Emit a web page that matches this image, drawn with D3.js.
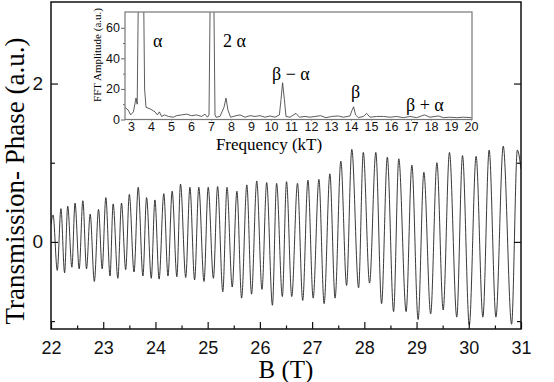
<!doctype html>
<html lang="en">
<head>
  <meta charset="utf-8">
  <title>Transmission phase oscillations</title>
  <script src="https://d3js.org/d3.v7.min.js"></script>
  <style>
    body { margin: 0; background: #fff; }
    svg { display: block; font-family: "Liberation Serif", "Times New Roman", serif; }
    .tick text { fill: #111; }
  </style>
</head>
<body>
  <div id="chart"></div>
  <script>
    // oscillation extrema: field (T) and phase (a.u.)
    const peakB = [22.04, 22.19, 22.32, 22.46, 22.61, 22.75, 22.91, 23.05, 23.19, 23.35,
      23.50, 23.67, 23.83, 23.99, 24.16, 24.32, 24.48, 24.66, 24.83, 25.01,
      25.19, 25.37, 25.56, 25.75, 25.94, 26.13, 26.32, 26.51, 26.72, 26.92,
      27.13, 27.34, 27.55, 27.76, 27.98, 28.22, 28.44, 28.66, 28.91, 29.14,
      29.39, 29.63, 29.88, 30.14, 30.39, 30.66, 30.93];
    const peakVal = [0.34, 0.42, 0.45, 0.49, 0.52, 0.35, 0.41, 0.56, 0.48, 0.49,
      0.60, 0.69, 0.56, 0.53, 0.61, 0.64, 0.73, 0.69, 0.69, 0.69,
      0.70, 0.69, 0.64, 0.72, 0.77, 0.75, 0.74, 0.76, 0.74, 0.78,
      0.79, 0.86, 1.02, 1.17, 1.13, 1.13, 1.07, 1.05, 0.97, 0.88,
      1.00, 1.13, 1.09, 1.08, 1.16, 1.21, 1.16];
    const troughB = [22.12, 22.26, 22.40, 22.54, 22.68, 22.83, 22.98, 23.13, 23.28, 23.43,
      23.59, 23.76, 23.92, 24.07, 24.24, 24.41, 24.58, 24.75, 24.93, 25.11,
      25.29, 25.47, 25.65, 25.84, 26.04, 26.24, 26.43, 26.61, 26.82, 27.02,
      27.23, 27.44, 27.66, 27.89, 28.10, 28.33, 28.56, 28.80, 29.03, 29.27,
      29.51, 29.77, 30.01, 30.27, 30.52, 30.82];
    const troughVal = [-0.36, -0.39, -0.32, -0.34, -0.34, -0.50, -0.34, -0.43, -0.46, -0.35,
      -0.38, -0.43, -0.46, -0.47, -0.43, -0.44, -0.45, -0.48, -0.50, -0.46,
      -0.63, -0.57, -0.71, -0.66, -0.60, -0.80, -0.69, -0.69, -0.74, -0.71,
      -0.78, -0.71, -0.55, -0.58, -0.52, -0.78, -0.88, -0.88, -0.98, -0.91,
      -0.86, -0.95, -1.05, -0.95, -0.95, -1.04];
    const edgeB = [22.0, 31.0];
    const edgeVal = [0.22, 0.92];

    // FFT spectrum of the trace (inset)
    const fftFreq = [2.7, 2.87, 2.98, 3.12, 3.25, 3.31, 3.5, 3.68, 3.75, 3.95,
      4.2, 4.32, 4.42, 4.53, 4.67, 4.87, 5.12, 5.28, 5.53, 5.78,
      6.03, 6.28, 6.53, 6.7, 6.82, 6.9, 7.05, 7.2, 7.25, 7.45,
      7.65, 7.75, 7.85, 7.98, 8.2, 8.45, 8.7, 8.95, 9.2, 9.45,
      9.7, 9.95, 10.2, 10.42, 10.5, 10.58, 10.67, 10.75, 10.95, 11.25,
      11.42, 11.7, 11.95, 12.2, 12.48, 12.75, 13.03, 13.37, 13.62, 13.95,
      14.05, 14.13, 14.23, 14.37, 14.62, 14.78, 14.95, 15.28, 15.62, 15.95,
      16.28, 16.62, 16.95, 17.28, 17.67, 17.95, 18.37, 18.62, 18.95, 19.28,
      19.62, 20.03];
    const fftAmp = [8, 6, 3, 5, 14, 10, 250, 20, 8, 7,
      5, 3, 5, 2, 3, 2, 1.5, 2.5, 3, 3.5,
      2.5, 3, 2, 3.5, 1.5, 3, 200, 3, 1.5, 2,
      8, 14, 6, 1.5, 2.3, 3, 1.5, 2.5, 2, 2.5,
      1.5, 2.3, 1.5, 3, 13, 24, 13, 2, 1.5, 4,
      1.5, 2, 1.5, 2, 2.5, 1.2, 2, 2.3, 1.5, 2.3,
      6, 8.3, 3, 1.2, 2, 4, 1.5, 2, 2, 1.5,
      2, 1.2, 2, 1.2, 3, 1.5, 2.3, 1.2, 1.5, 1.2,
      1.5, 1.2];

    const xTicks = d3.range(22, 32);
    const xMinor = d3.range(22.5, 31, 1);
    const yTicks = [0, 2];
    const yMinor = [-1, 1];
    const fftXTicks = d3.range(3, 21);
    const fftYTicks = [0, 20, 40, 60];
    const fftYMinor = [10, 30, 50];

    const peaksLabels = [
      { text: 'α', f: 4.1, y: 47 },
      { text: '2 α', f: 7.6, y: 47 },
      { text: 'β − α', f: 10.05, y: 80 },
      { text: 'β', f: 14.0, y: 98 },
      { text: 'β + α', f: 16.75, y: 111 }
    ];

    const width = 554, height = 382;
    const frame = { left: 51, right: 521, top: 2, bottom: 329 };

    const svg = d3.select('#chart').append('svg')
      .attr('width', width)
      .attr('height', height);

    const x = d3.scaleLinear().domain([22, 31]).range([frame.left, frame.right]);
    const y = d3.scaleLinear().domain([-1.1, 3.03]).range([frame.bottom, frame.top]);

    // merge the extrema into one ordered trace
    const trace = [];
    edgeB.forEach((b, i) => trace.push([b, edgeVal[i]]));
    peakB.forEach((b, i) => trace.push([b, peakVal[i]]));
    troughB.forEach((b, i) => trace.push([b, troughVal[i]]));
    trace.sort((a, b) => a[0] - b[0]);

    svg.append('clipPath').attr('id', 'mainClip')
      .append('rect')
      .attr('x', frame.left).attr('y', frame.top)
      .attr('width', frame.right - frame.left).attr('height', frame.bottom - frame.top);

    const line = d3.line()
      .x(d => x(d[0]))
      .y(d => y(d[1]))
      .curve(d3.curveMonotoneX);

    svg.append('path')
      .datum(trace)
      .attr('clip-path', 'url(#mainClip)')
      .attr('fill', 'none')
      .attr('stroke', '#222')
      .attr('stroke-width', 0.9)
      .attr('d', line);

    // axes, ticks pointing inward
    const xAxis = svg.append('g')
      .attr('transform', `translate(0,${frame.bottom})`)
      .call(d3.axisBottom(x).tickValues(xTicks).tickSize(-7).tickPadding(12).tickFormat(d3.format('d')));
    xAxis.selectAll('text').attr('font-size', 18);

    svg.append('g')
      .attr('transform', `translate(0,${frame.bottom})`)
      .call(d3.axisBottom(x).tickValues(xMinor).tickSize(-3.5).tickFormat(''));

    const yAxis = svg.append('g')
      .attr('transform', `translate(${frame.left},0)`)
      .call(d3.axisLeft(y).tickValues(yTicks).tickSize(-7).tickPadding(8).tickFormat(d3.format('d')));
    yAxis.selectAll('text').attr('font-size', 19);

    svg.append('g')
      .attr('transform', `translate(${frame.left},0)`)
      .call(d3.axisLeft(y).tickValues(yMinor).tickSize(-4).tickFormat(''));

    svg.append('g')
      .attr('transform', `translate(${frame.right},0)`)
      .call(d3.axisRight(y).tickValues(yTicks).tickSize(-7).tickFormat(''));

    svg.append('g')
      .attr('transform', `translate(${frame.right},0)`)
      .call(d3.axisRight(y).tickValues(yMinor).tickSize(-4).tickFormat(''));

    svg.selectAll('.domain').remove();
    svg.selectAll('.tick line').attr('stroke', '#111').attr('stroke-width', 1.2);

    svg.append('rect')
      .attr('x', frame.left).attr('y', frame.top)
      .attr('width', frame.right - frame.left).attr('height', frame.bottom - frame.top)
      .attr('fill', 'none')
      .attr('stroke', '#111')
      .attr('stroke-width', 1.5);

    svg.append('text')
      .attr('x', 286).attr('y', 378)
      .attr('text-anchor', 'middle')
      .attr('font-size', 25)
      .text('B (T)');

    svg.append('text')
      .attr('transform', 'translate(24,181) rotate(-90)')
      .attr('text-anchor', 'middle')
      .attr('font-size', 27)
      .text('Transmission- Phase (a.u.)');

    // inset: FFT spectrum
    const inset = { left: 125, right: 472, top: 12, bottom: 119.5 };
    const fx = d3.scaleLinear().domain([2.7, 20.05]).range([inset.left, inset.right]);
    const fy = d3.scaleLinear().domain([0, 70.3]).range([inset.bottom, inset.top]);

    const ins = svg.append('g');

    ins.append('rect')
      .attr('x', inset.left).attr('y', inset.top)
      .attr('width', inset.right - inset.left).attr('height', inset.bottom - inset.top)
      .attr('fill', '#fff');

    ins.append('clipPath').attr('id', 'insetClip')
      .append('rect')
      .attr('x', inset.left).attr('y', inset.top)
      .attr('width', inset.right - inset.left).attr('height', inset.bottom - inset.top);

    ins.append('path')
      .datum(d3.zip(fftFreq, fftAmp))
      .attr('clip-path', 'url(#insetClip)')
      .attr('fill', 'none')
      .attr('stroke', '#333')
      .attr('stroke-width', 0.8)
      .attr('d', d3.line().x(d => fx(d[0])).y(d => fy(d[1])));

    const fxAxis = ins.append('g')
      .attr('transform', `translate(0,${inset.bottom})`)
      .call(d3.axisBottom(fx).tickValues(fftXTicks).tickSize(1).tickPadding(2).tickFormat(d3.format('d')));
    fxAxis.selectAll('text').attr('font-size', 12.5);

    const fyAxis = ins.append('g')
      .attr('transform', `translate(${inset.left},0)`)
      .call(d3.axisLeft(fy).tickValues(fftYTicks).tickSize(4).tickPadding(1).tickFormat(d3.format('d')));
    fyAxis.selectAll('text').attr('font-size', 12.5);

    ins.append('g')
      .attr('transform', `translate(${inset.left},0)`)
      .call(d3.axisLeft(fy).tickValues(fftYMinor).tickSize(2).tickFormat(''));

    ins.selectAll('.domain').remove();
    ins.selectAll('.tick line').attr('stroke', '#666');

    ins.append('rect')
      .attr('x', inset.left).attr('y', inset.top)
      .attr('width', inset.right - inset.left).attr('height', inset.bottom - inset.top)
      .attr('fill', 'none')
      .attr('stroke', '#777')
      .attr('stroke-width', 1.2);

    ins.append('text')
      .attr('x', 269).attr('y', 150)
      .attr('text-anchor', 'middle')
      .attr('font-size', 17)
      .text('Frequency (kT)');

    ins.append('text')
      .attr('transform', 'translate(101,55) rotate(-90)')
      .attr('text-anchor', 'middle')
      .attr('font-size', 11)
      .text('FFT Amplitude (a.u.)');

    ins.selectAll('text.peak')
      .data(peaksLabels)
      .join('text')
      .attr('class', 'peak')
      .attr('x', d => fx(d.f))
      .attr('y', d => d.y)
      .attr('font-size', 18)
      .text(d => d.text);
  </script>
</body>
</html>
